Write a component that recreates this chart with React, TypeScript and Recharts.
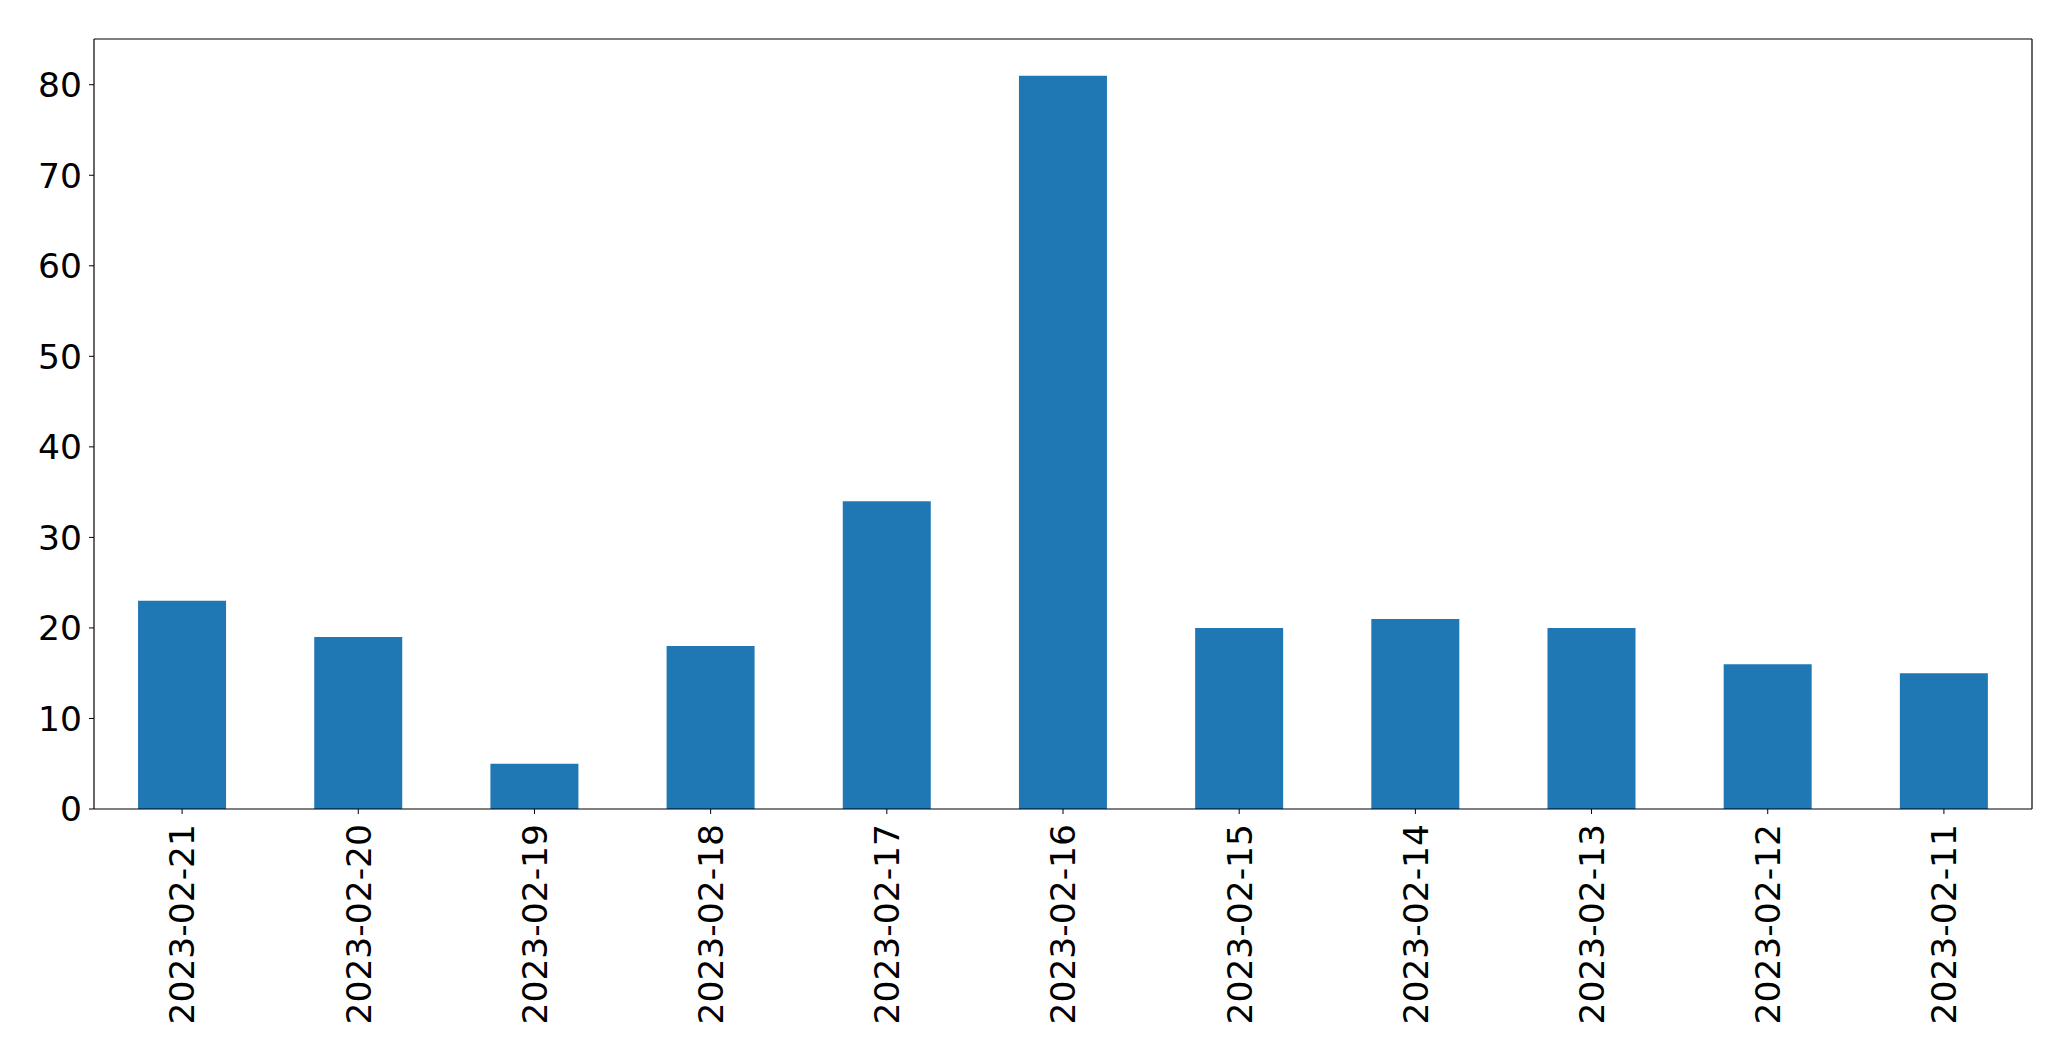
import React from "react";
import { Bar, BarChart, ReferenceLine, XAxis, YAxis } from "recharts";

const days = [
  "2023-02-21",
  "2023-02-20",
  "2023-02-19",
  "2023-02-18",
  "2023-02-17",
  "2023-02-16",
  "2023-02-15",
  "2023-02-14",
  "2023-02-13",
  "2023-02-12",
  "2023-02-11",
];
const counts = [23, 19, 5, 18, 34, 81, 20, 21, 20, 16, 15];
const yTicks = [0, 10, 20, 30, 40, 50, 60, 70, 80];
const yMax = 85.05;

const data = days.map((day, i) => ({ day, count: counts[i] }));

const font = "'DejaVu Sans', sans-serif";

const DateTick = (props: any) => {
  const { x, y, payload } = props;
  return (
    <text
      x={x}
      y={y}
      transform={`rotate(-90, ${x}, ${y})`}
      textAnchor="end"
      dy="0.36em"
      fontSize={34.5}
      fontFamily={font}
      fill="#000"
    >
      {payload.value}
    </text>
  );
};

const App = () => {
  return (
    <div style={{ position: "absolute", left: 0, top: 0, background: "#fff" }}>
      <BarChart
        width={2071}
        height={1061}
        data={data}
        margin={{ top: 39, right: 38, left: 0, bottom: 0 }}
        barCategoryGap="25%"
      >
        <XAxis
          dataKey="day"
          height={252}
          interval={0}
          tickSize={5}
          tickMargin={10}
          stroke="#000"
          tickLine={{ stroke: "#000" }}
          axisLine={{ stroke: "#000", strokeWidth: 1.2 }}
          tick={<DateTick />}
        />
        <YAxis
          width={94}
          domain={[0, yMax]}
          ticks={yTicks}
          tickSize={5}
          tickMargin={7}
          stroke="#000"
          axisLine={{ stroke: "#000", strokeWidth: 1.2 }}
          tick={{ fontSize: 34.5, fontFamily: font, fill: "#000" }}
        />
        <YAxis
          yAxisId="right"
          orientation="right"
          width={1}
          domain={[0, yMax]}
          tick={false}
          tickLine={false}
          stroke="#000"
          axisLine={{ stroke: "#000", strokeWidth: 1.2 }}
        />
        <Bar dataKey="count" fill="#1f77b4" isAnimationActive={false} />
        <ReferenceLine y={yMax} stroke="#000" strokeWidth={1.2} ifOverflow="extendDomain" />
      </BarChart>
    </div>
  );
};

export default App;
